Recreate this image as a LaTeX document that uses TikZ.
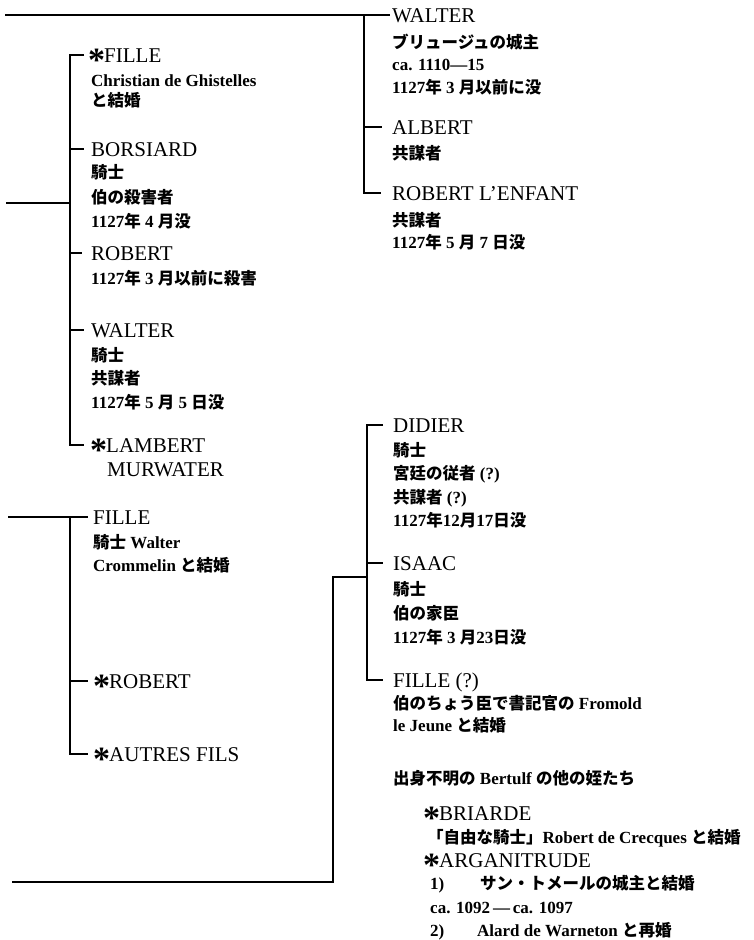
\documentclass[tikz,border=0pt]{standalone}
\usepackage{fontspec}
\usepackage{graphicx}
\setmainfont{Liberation Serif}
\newfontfamily\jpf{Noto Sans CJK JP}
\newcommand\J[1]{{\jpf\bfseries\fontsize{16.5}{16.5}\selectfont #1}}
\newcommand\namefont{\fontsize{21}{21}\selectfont}
\newcommand\detfont{\fontsize{17}{17}\selectfont\bfseries}
\newcommand\mystar{\makebox[13pt][l]{\hspace{-2pt}\raisebox{-9pt}[13pt][0pt]{\fontsize{34}{34}\selectfont\bfseries *}}\hspace{1pt}}
\tikzset{
  pname/.style={anchor=west, inner sep=0pt, text height=14pt, text depth=0pt, font=\namefont},
  pdet/.style={anchor=base west, inner sep=0pt, font=\detfont},
  conn/.style={line width=1.3pt, draw=black},
}
\begin{document}
\begin{tikzpicture}[x=1pt,y=-1pt]
\useasboundingbox (0,0) rectangle (754,940);

% ---------- top right group ----------
\node[pname] (walterA) at (392,15) {WALTER};
\node[pdet] (walterA1) at (392,48) {\J{ブリュージュの城主}};
\node[pdet] (walterA2) at (392,70) {ca. 1110—15};
\node[pdet] (walterA3) at (392,93) {1127\J{年} 3 \J{月以前に没}};
\node[pname] (albert) at (392,127) {ALBERT};
\node[pdet] (albert1) at (392,159) {\J{共謀者}};
\node[pname] (lenfant) at (392,193) {ROBERT L’ENFANT};
\node[pdet] (lenfant1) at (392,226) {\J{共謀者}};
\node[pdet] (lenfant2) at (392,248) {1127\J{年} 5 \J{月} 7 \J{日没}};

% ---------- left group 1 ----------
\node[pname] (filleA) at (90,55) {\mystar FILLE};
\node[pdet] (filleA1) at (91,86) {Christian de Ghistelles};
\node[pdet] (filleA2) at (91,106) {\J{と結婚}};
\node[pname] (borsiard) at (91,149) {BORSIARD};
\node[pdet] (borsiard1) at (91,178) {\J{騎士}};
\node[pdet] (borsiard2) at (91,203) {\J{伯の殺害者}};
\node[pdet] (borsiard3) at (91,227) {1127\J{年} 4 \J{月没}};
\node[pname] (robertA) at (91,253) {ROBERT};
\node[pdet] (robertA1) at (91,284) {1127\J{年} 3 \J{月以前に殺害}};
\node[pname] (walterB) at (91,330) {WALTER};
\node[pdet] (walterB1) at (91,361) {\J{騎士}};
\node[pdet] (walterB2) at (91,384) {\J{共謀者}};
\node[pdet] (walterB3) at (91,408) {1127\J{年} 5 \J{月} 5 \J{日没}};
\node[pname] (lambert) at (92,445) {\mystar LAMBERT};
\node[pname] (murwater) at (107,469) {MURWATER};

% ---------- left group 2 ----------
\node[pname] (filleB) at (93,517) {FILLE};
\node[pdet] (filleB1) at (93,548) {\J{騎士} Walter};
\node[pdet] (filleB2) at (93,571) {Crommelin \J{と結婚}};
\node[pname] (robertB) at (95,681) {\mystar ROBERT};
\node[pname] (autres) at (95,754) {\mystar AUTRES FILS};

% ---------- right lower group ----------
\node[pname] (didier) at (393,425) {DIDIER};
\node[pdet] (didier1) at (393,456) {\J{騎士}};
\node[pdet] (didier2) at (393,479) {\J{宮廷の従者} (?)};
\node[pdet] (didier3) at (393,503) {\J{共謀者} (?)};
\node[pdet] (didier4) at (393,526) {1127\J{年}12\J{月}17\J{日没}};
\node[pname] (isaac) at (393,563) {ISAAC};
\node[pdet] (isaac1) at (393,595) {\J{騎士}};
\node[pdet] (isaac2) at (393,619) {\J{伯の家臣}};
\node[pdet] (isaac3) at (393,643) {1127\J{年} 3 \J{月}23\J{日没}};
\node[pname] (filleC) at (393,680) {FILLE (?)};
\node[pdet] (filleC1) at (393,709) {\J{伯のちょう臣で書記官の} Fromold};
\node[pdet] (filleC2) at (393,731) {le Jeune \J{と結婚}};

% ---------- other nieces ----------
\node[pdet] (others) at (393,784) {\J{出身不明の} Bertulf \J{の他の姪たち}};
\node[pname] (briarde) at (425,813) {\mystar BRIARDE};
\node[pdet] (briarde1) at (427,843) {\J{「自由な騎士」}Robert de Crecques \J{と結婚}};
\node[pname] (argan) at (425,860) {\mystar ARGANITRUDE};
\node[pdet] (argan1) at (430,889) {\makebox[50pt][l]{1)}\J{サン・トメールの城主と結婚}};
\node[pdet] (argan2) at (430,913) {ca. 1092\,—\,ca. 1097};
\node[pdet] (argan3) at (430,936) {\makebox[47pt][l]{2)}Alard de Warneton \J{と再婚}};

% ---------- connectors ----------
\coordinate (top0) at (5,15);
\coordinate (busA) at (364,15);
\draw[conn] (top0) -- ([xshift=-2pt]walterA.west);
\draw[conn] (busA) |- ([xshift=-11pt]lenfant.west);
\draw[conn] (albert.west -| busA) -- ([xshift=-10pt]albert.west);

\coordinate (left0) at (6,203);
\coordinate (busL) at (70,203);
\draw[conn] (left0) -- (busL);
\draw[conn] ([xshift=-6pt]filleA.west) -| (busL) |- ([xshift=-8pt]lambert.west);
\draw[conn] (borsiard.west -| busL) -- ([xshift=-7pt]borsiard.west);
\draw[conn] (robertA.west -| busL) -- ([xshift=-9pt]robertA.west);
\draw[conn] (walterB.west -| busL) -- ([xshift=-7pt]walterB.west);

\coordinate (left2) at (8,517);
\coordinate (busL2) at (70,517);
\draw[conn] (left2) -- ([xshift=-5pt]filleB.west);
\draw[conn] (busL2) |- ([xshift=-7pt]autres.west);
\draw[conn] (robertB.west -| busL2) -- ([xshift=-7pt]robertB.west);

\coordinate (bot0) at (12,882);
\coordinate (busR) at (367,577);
\draw[conn] (bot0) -| ([xshift=-34pt]busR) -- (busR);
\draw[conn] ([xshift=-10pt]didier.west) -| (busR) |- ([xshift=-10pt]filleC.west);
\draw[conn] (isaac.west -| busR) -- ([xshift=-10pt]isaac.west);
\end{tikzpicture}
\end{document}
